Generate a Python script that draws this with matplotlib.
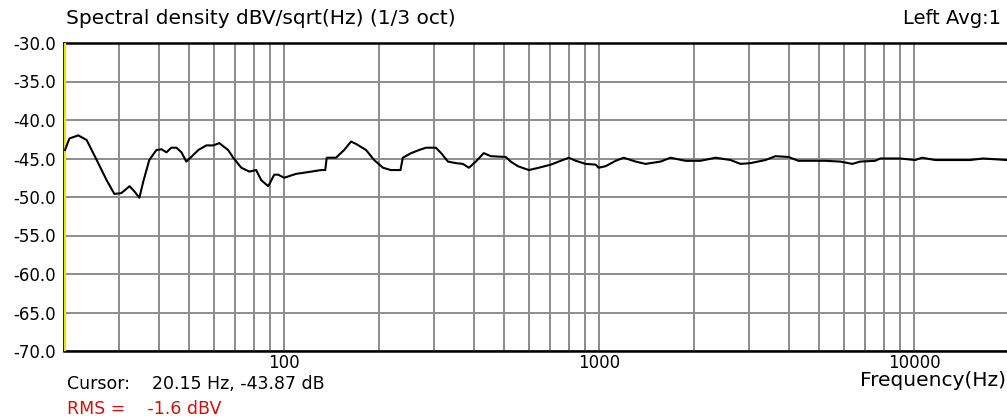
import matplotlib
matplotlib.use("Agg")
import matplotlib.pyplot as plt
from matplotlib.ticker import FixedLocator, NullFormatter

plt.rcParams['font.family'] = ['DejaVu Sans']

# spectral density trace (1/3 octave smoothing)
freq = [20.15, 20.8, 22.2, 23.6, 25.4, 27.3, 28.9, 30.4, 32.3, 33.5, 34.7, 35.7,
        37.3, 39.3, 40.8, 42.3, 43.8, 45.5, 47.2, 48.9, 50.7, 53.4, 56.6, 59.6,
        62.2, 66.4, 68.9, 73.1, 77.5, 81.5, 84.5, 89.0, 93.0, 95.7, 100, 109,
        122, 131, 135, 136.5, 146, 155, 163, 169, 182, 193, 206, 218, 234, 238,
        253, 268, 282, 303, 315, 331, 351, 369, 386, 406, 430, 453, 505, 524,
        552, 598, 643, 702, 755, 801, 843, 906, 975, 996, 1048, 1128, 1196, 1305,
        1404, 1566, 1685, 1880, 2097, 2341, 2612, 2809, 3022, 3372, 3626, 3988,
        4290, 4682, 5225, 5830, 6362, 6744, 7522, 7801, 9028, 10070, 10600,
        11660, 15050, 16550, 19720, 20000]
level = [-43.9, -42.4, -42.0, -42.6, -45.2, -47.8, -49.6, -49.5, -48.6, -49.3,
         -50.1, -48.0, -45.2, -43.9, -43.8, -44.2, -43.6, -43.6, -44.2, -45.4,
         -44.8, -43.9, -43.3, -43.3, -43.0, -43.9, -44.9, -46.2, -46.7, -46.5,
         -47.8, -48.6, -47.1, -47.1, -47.5, -47.0, -46.7, -46.5, -46.5, -44.9,
         -44.9, -43.9, -42.8, -43.1, -43.9, -45.2, -46.2, -46.5, -46.5, -44.9,
         -44.3, -43.9, -43.6, -43.6, -44.3, -45.4, -45.6, -45.7, -46.2, -45.4,
         -44.3, -44.7, -44.8, -45.4, -46.0, -46.5, -46.2, -45.8, -45.3, -44.9,
         -45.3, -45.7, -45.8, -46.2, -46.0, -45.3, -44.9, -45.4, -45.7, -45.4,
         -44.9, -45.3, -45.3, -44.9, -45.2, -45.7, -45.6, -45.2, -44.7, -44.8,
         -45.3, -45.3, -45.3, -45.4, -45.7, -45.4, -45.3, -45.0, -45.0, -45.2,
         -44.9, -45.2, -45.2, -45.0, -45.2, -45.2]

y_ticks = [-30, -35, -40, -45, -50, -55, -60, -65, -70]
x_major = [100, 1000, 10000]
x_minor = [30, 40, 50, 60, 70, 80, 90, 200, 300, 400, 500, 600, 700, 800, 900,
           2000, 3000, 4000, 5000, 6000, 7000, 8000, 9000]
cursor_freq = 20.15

fig = plt.figure(figsize=(10.07, 4.18), dpi=100)
ax = fig.add_axes([64 / 1007, 67 / 418, 945 / 1007, 308 / 418])

ax.set_xscale('log')
ax.set_xlim(20, 20000)
ax.set_ylim(-70, -30)

ax.xaxis.set_major_locator(FixedLocator(x_major))
ax.xaxis.set_minor_locator(FixedLocator(x_minor))
ax.xaxis.set_minor_formatter(NullFormatter())
ax.set_xticklabels([str(v) for v in x_major])
ax.set_yticks(y_ticks)
ax.set_yticklabels([f"{v:.1f}" for v in y_ticks])

ax.grid(True, which='both', color='#8c8c8c', linewidth=1.4)
ax.tick_params(which='both', length=0, labelsize=12)
ax.tick_params(axis='y', pad=6)
ax.tick_params(axis='x', pad=2)

for s in ax.spines.values():
    s.set_color('black')
    s.set_linewidth(1.8)
ax.spines['left'].set_linewidth(1.2)

ax.axvline(cursor_freq, color='#e6e600', linewidth=1.6, zorder=5)
ax.plot(freq, level, color='black', linewidth=1.5, zorder=6)

fig.text(66 / 1007, 1 - 19 / 418, "Spectral density dBV/sqrt(Hz) (1/3 oct)",
         fontsize=14.5, va='center', ha='left')
fig.text(1001 / 1007, 1 - 19 / 418, "Left Avg:1", fontsize=14,
         va='center', ha='right')
fig.text(1006 / 1007, 1 - 381 / 418, "Frequency(Hz)", fontsize=14.5,
         va='center', ha='right')
fig.text(67 / 1007, 1 - 384 / 418, "Cursor:    20.15 Hz, -43.87 dB",
         fontsize=12.5, va='center', ha='left')
fig.text(67 / 1007, 1 - 409 / 418, "RMS =    -1.6 dBV", fontsize=12.5,
         va='center', ha='left', color='#d01010')

fig.savefig("out.png", dpi=100)
